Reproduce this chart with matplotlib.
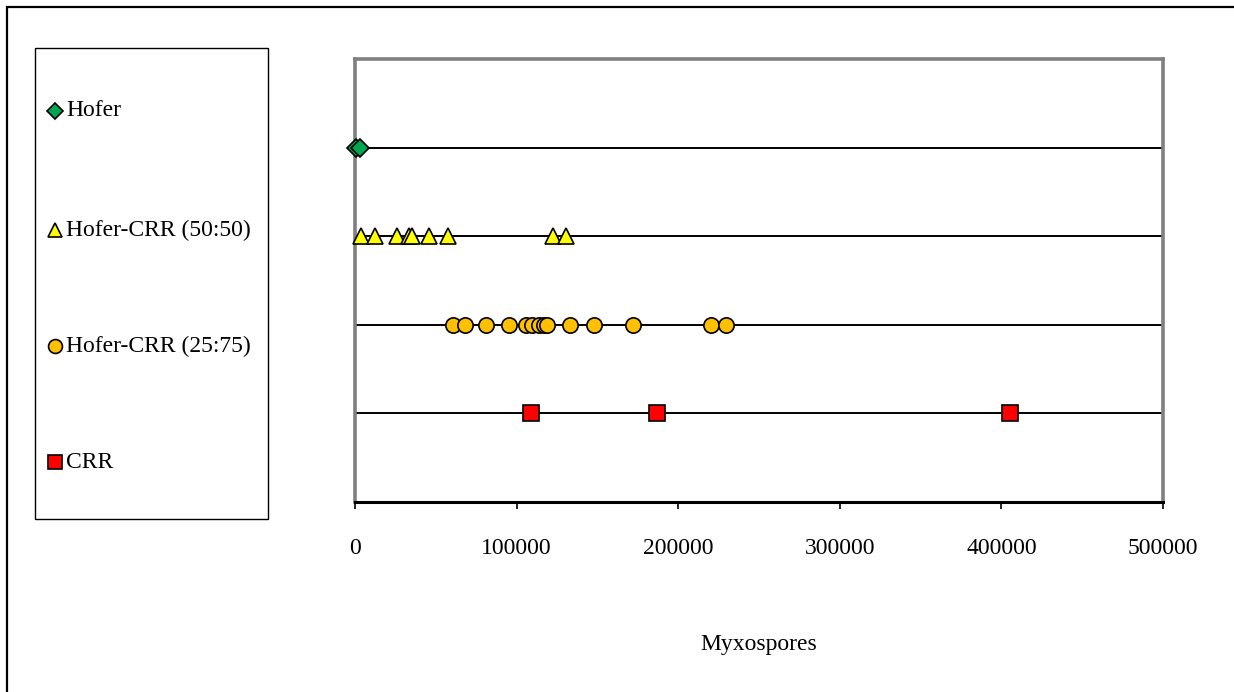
import matplotlib
matplotlib.use("Agg")
import matplotlib.pyplot as plt
from matplotlib.patches import Rectangle
from matplotlib.lines import Line2D

plt.rcParams['font.family'] = ['Liberation Serif', 'DejaVu Serif']

# Myxospore counts per group
groups = ["Hofer", "Hofer-CRR (50:50)", "Hofer-CRR (25:75)", "CRR"]
hofer = [500, 3000]
hofer_crr_50 = [3700, 12400, 25800, 33600, 35300, 46000, 57400, 122500, 130300]
hofer_crr_25 = [60500, 68200, 81000, 95400, 106000, 109500, 113600, 117100,
                118800, 133000, 148100, 172200, 220000, 229300]
crr = [109000, 187100, 405400]
row_levels = [4, 3, 2, 1]
x_ticks = [0, 100000, 200000, 300000, 400000, 500000]

series = [hofer, hofer_crr_50, hofer_crr_25, crr]
markers = ["D", "^", "o", "s"]
colors = ["#00A651", "#FFFF00", "#FFC000", "#FF0000"]
sizes = [9, 11.5, 11, 11]

W, H = 1234, 692
FS = 17
fig = plt.figure(figsize=(W / 100, H / 100), dpi=100)

ax = fig.add_axes([355 / W, 1 - 502 / H, (1163 - 355) / W, (502 - 59) / H])
ax.set_xlim(0, 500000)
ax.set_ylim(0, 5)

for lvl in row_levels:
    ax.axhline(lvl, color="black", lw=1.4, zorder=1)

for vals, lvl, m, c, s in zip(series, row_levels, markers, colors, sizes):
    ax.plot(vals, [lvl] * len(vals), linestyle="none", marker=m, markersize=s,
            markerfacecolor=c, markeredgecolor="black", markeredgewidth=1.2,
            clip_on=False, zorder=5)

for side in ["left", "top", "right"]:
    ax.spines[side].set_color("#808080")
    ax.spines[side].set_linewidth(2.6)
ax.spines["bottom"].set_color("black")
ax.spines["bottom"].set_linewidth(2.2)

ax.set_yticks([])
ax.set_xticks(x_ticks)
ax.set_xticklabels([str(t) for t in x_ticks])
ax.tick_params(axis="x", direction="out", length=5, width=1.2, colors="black",
               labelsize=FS, pad=21)
ax.set_xlabel("Myxospores", fontsize=FS, labelpad=54)

# Outer chart border
fig.patches.append(Rectangle((7 / W, -0.2), 1.5, 1 - 7 / H + 0.2,
                             transform=fig.transFigure, fill=False,
                             edgecolor="black", lw=1.6))

# Legend panel
fig.patches.append(Rectangle((35 / W, 1 - 519 / H), (268 - 35) / W, (519 - 48) / H,
                             transform=fig.transFigure, fill=False,
                             edgecolor="black", lw=1.0))
legend_y = [111, 230, 346, 462]
legend_sizes = [8, 9.5, 10, 10]
for name, yy, m, c, s in zip(groups, legend_y, markers, colors, legend_sizes):
    fy = 1 - yy / H
    fig.add_artist(Line2D([55 / W], [fy], transform=fig.transFigure,
                          linestyle="none", marker=m, markersize=s,
                          markerfacecolor=c, markeredgecolor="black",
                          markeredgewidth=1.2))
    fig.text(66 / W, fy, name, fontsize=FS, va="center", ha="left")

fig.savefig("out.png", dpi=100, facecolor="white")
